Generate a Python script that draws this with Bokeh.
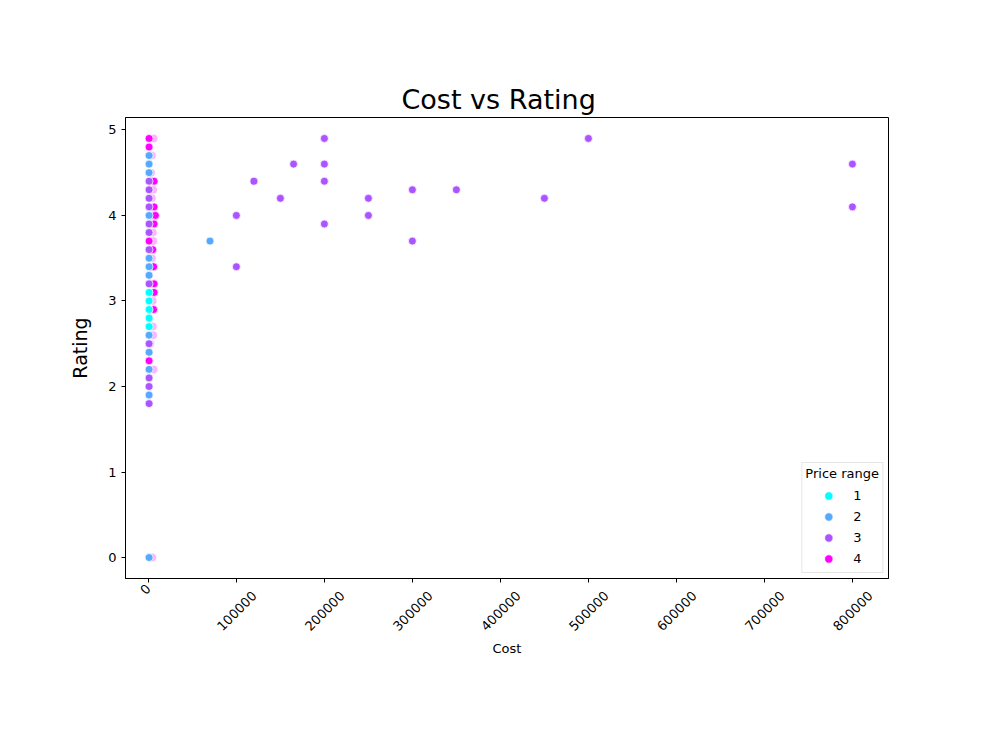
import math
from bokeh.plotting import figure
from bokeh.models import (FixedTicker, CustomJSTickFormatter, Range1d, Legend, LegendItem, LinearAxis)
from bokeh.embed import file_html
from bokeh.resources import INLINE

# ---- data ----
# low-cost cluster near x = 0 (front points)
cluster_cost = [800] * 33
cluster_rating = [4.9, 4.8, 4.7, 4.6, 4.5, 4.4, 4.3, 4.2, 4.1, 4.0, 3.9, 3.8, 3.7, 3.6,
                  3.5, 3.4, 3.3, 3.2, 3.1, 3.0, 2.9, 2.8, 2.7, 2.6, 2.5, 2.4, 2.3, 2.2,
                  2.1, 2.0, 1.9, 1.8, 0.0]
cluster_range = [4, 4, 2, 2, 2, 3, 3, 3, 3, 2, 3, 3, 4, 3,
                 2, 2, 2, 3, 1, 1, 1, 1, 1, 2, 3, 2, 4, 2,
                 3, 3, 2, 3, 2]

# points partly hidden behind the cluster (slightly higher cost)
behind_cost = [6500, 6500, 5000, 8000, 6500, 5000, 6000, 6500, 6500, 6000]
behind_rating = [4.4, 4.1, 4.0, 4.0, 3.9, 3.6, 3.4, 3.2, 3.1, 2.9]
behind_range = [4, 4, 4, 4, 4, 4, 4, 4, 4, 4]

# faint, mostly covered points
faint_cost = [6000, 5500, 5500, 5000, 5000, 5000, 5500, 6000, 4000, 4000, 4000, 2500, 2500, 4500, 3000]
faint_rating = [4.9, 4.3, 3.7, 3.8, 3.0, 2.7, 2.6, 2.2, 4.2, 4.7, 3.5, 3.6, 2.5, 0.0, 4.5]
faint_range = [4, 4, 4, 4, 4, 4, 4, 4, 4, 4, 4, 3, 3, 4, 4]

# expensive restaurants
spread_cost = [70000, 100000, 100000, 120000, 150000, 165000, 200000, 200000, 200000, 200000,
               250000, 250000, 300000, 300000, 350000, 450000, 500000, 800000, 800000]
spread_rating = [3.7, 4.0, 3.4, 4.4, 4.2, 4.6, 4.9, 4.6, 4.4, 3.9,
                 4.2, 4.0, 4.3, 3.7, 4.3, 4.2, 4.9, 4.6, 4.1]
spread_range = [2, 3, 3, 3, 3, 3, 3, 3, 3, 3,
                3, 3, 3, 3, 3, 3, 3, 3, 3]

price_levels = [1, 2, 3, 4]
palette = {1: "#00ffff", 2: "#55aaff", 3: "#aa55ff", 4: "#ff00ff"}
x_ticks = [0, 100000, 200000, 300000, 400000, 500000, 600000, 700000, 800000]
y_ticks = [0, 1, 2, 3, 4, 5]

FONT = "DejaVu Sans"
W, H = 1000, 750
B_LEFT, B_RIGHT, B_TOP, B_BOTTOM = 125, 112, 117, 172
X_START, X_END = -26000, 841000
FRAME_W = W - B_LEFT - B_RIGHT
# long rotated labels are centred on their tick (matplotlib style): shift their anchor
LABEL_SHIFT_PX = 18
shift = LABEL_SHIFT_PX / FRAME_W * (X_END - X_START)

p = figure(width=W, height=H, output_backend="svg", toolbar_location=None,
           x_range=Range1d(X_START, X_END), y_range=Range1d(-0.245, 5.145),
           title="Cost vs Rating",
           min_border_left=B_LEFT, min_border_right=B_RIGHT,
           min_border_top=B_TOP, min_border_bottom=B_BOTTOM)
p.extra_x_ranges = {"labels": Range1d(X_START - shift, X_END - shift)}

p.title.text_font = FONT
p.title.text_font_size = "27px"
p.title.text_font_style = "normal"
p.title.text_color = "black"
p.title.align = "left"
p.title.offset = 276
p.title.standoff = 6

p.grid.visible = False
p.outline_line_color = "black"
p.outline_line_width = 1

label_axis = LinearAxis(x_range_name="labels")
p.add_layout(label_axis, "below")

for ax in (p.xaxis[0], p.yaxis[0], label_axis):
    ax.axis_line_color = "black"
    ax.major_tick_line_color = "black"
    ax.major_tick_out = 4
    ax.major_tick_in = 0
    ax.minor_tick_line_color = None
    ax.major_label_text_font = FONT
    ax.major_label_text_font_size = "13px"
    ax.major_label_text_color = "black"
    ax.axis_label_text_font = FONT
    ax.axis_label_text_font_style = "normal"
    ax.axis_label_text_color = "black"

main_x = p.xaxis[0]
main_x.ticker = FixedTicker(ticks=x_ticks)
main_x.formatter = CustomJSTickFormatter(code="return tick == 0 ? '0' : ''")
main_x.major_label_orientation = math.pi / 4
main_x.major_label_standoff = 4

label_axis.ticker = FixedTicker(ticks=x_ticks)
label_axis.formatter = CustomJSTickFormatter(code="return tick == 0 ? '' : tick.toFixed(0)")
label_axis.major_label_orientation = math.pi / 4
label_axis.axis_line_color = None
label_axis.major_tick_line_color = None
label_axis.major_tick_out = 0
label_axis.major_label_standoff = -8
label_axis.axis_label = "Cost"
label_axis.axis_label_text_font_size = "13px"
label_axis.axis_label_standoff = 3

p.yaxis.ticker = FixedTicker(ticks=y_ticks)
p.yaxis.axis_label = "Rating"
p.yaxis.axis_label_text_font_size = "19px"
p.yaxis.axis_label_standoff = 14

# faint, hidden points
p.scatter(faint_cost, faint_rating, size=8, line_color="white", line_width=0.75,
          fill_color=[palette[r] for r in faint_range], fill_alpha=0.3, line_alpha=0.3)
# partly hidden points
p.scatter(behind_cost, behind_rating, size=8, line_color="white", line_width=0.75,
          fill_color=[palette[r] for r in behind_range])

items = []
for lvl in price_levels:
    xs = [c for c, r in zip(cluster_cost, cluster_range) if r == lvl] + \
         [c for c, r in zip(spread_cost, spread_range) if r == lvl]
    ys = [v for v, r in zip(cluster_rating, cluster_range) if r == lvl] + \
         [v for v, r in zip(spread_rating, spread_range) if r == lvl]
    rr = p.scatter(xs, ys, size=8, fill_color=palette[lvl], line_color="white", line_width=0.75)
    items.append(LegendItem(label=str(lvl), renderers=[rr]))

legend = Legend(items=items, location="bottom_right", title="Price range")
legend.title_text_font = FONT
legend.title_text_font_size = "13px"
legend.title_text_font_style = "normal"
legend.title_text_color = "black"
legend.title_standoff = 4
legend.label_text_font = FONT
legend.label_text_font_size = "13px"
legend.label_text_color = "black"
legend.glyph_width = 46
legend.glyph_height = 21
legend.label_height = 21
legend.label_standoff = 2
legend.spacing = 0
legend.padding = 3
legend.margin = 5
legend.border_line_color = "#cccccc"
legend.border_line_width = 1
p.add_layout(legend)

open("out.html", "w").write(file_html(p, INLINE))
